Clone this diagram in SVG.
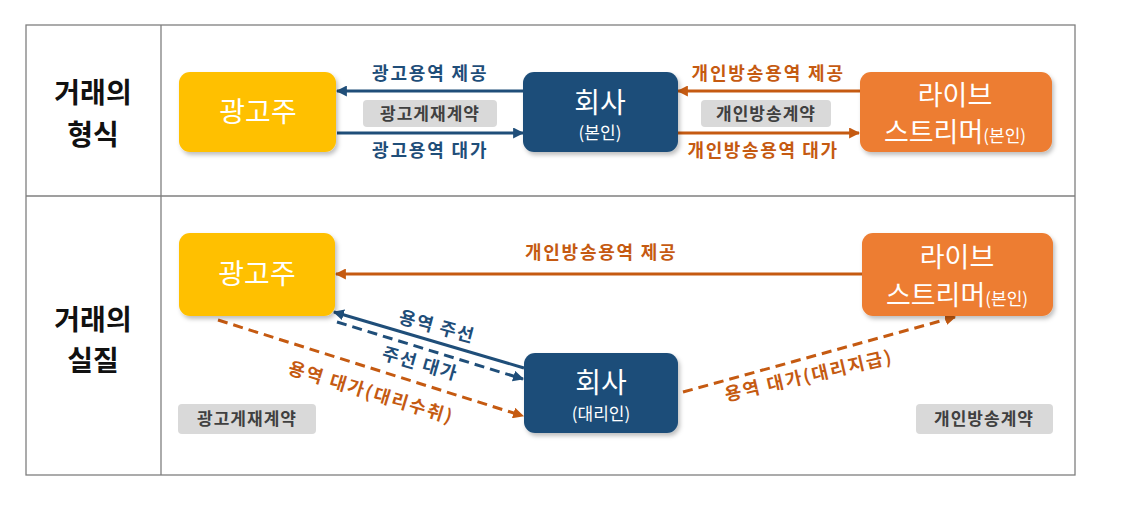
<svg xmlns="http://www.w3.org/2000/svg" width="1126" height="516" viewBox="0 0 1126 516">
<style>
text{font-family:"Noto Sans CJK KR","Noto Sans",sans-serif}
.hdr{font-size:28px;font-weight:700;fill:#111;text-anchor:middle}
.nt{font-size:28px;fill:#fff;text-anchor:middle}
.ns{font-size:17px;fill:#fff}
.lb{font-size:18px;font-weight:700;letter-spacing:1.5px;text-anchor:middle}
.blue{fill:#1F4E79}
.org{fill:#C55A11}
.tag{fill:#D9D9D9}
.tagt{font-size:17px;font-weight:700;fill:#404040;text-anchor:middle;letter-spacing:1px}
.bl{stroke:#1F4E79;stroke-width:3;fill:none}
.ol{stroke:#C55A11;stroke-width:3;fill:none}
.ds{stroke-dasharray:10 6}
</style>
<defs>
<marker id="ab" viewBox="0 0 10 10" refX="9" refY="5" markerWidth="11" markerHeight="11" markerUnits="userSpaceOnUse" orient="auto"><path d="M0,0 L10,5 L0,10 z" fill="#1F4E79"/></marker>
<marker id="ao" viewBox="0 0 10 10" refX="9" refY="5" markerWidth="11" markerHeight="11" markerUnits="userSpaceOnUse" orient="auto"><path d="M0,0 L10,5 L0,10 z" fill="#C55A11"/></marker>
<filter id="sh" x="-10%" y="-10%" width="125%" height="130%"><feDropShadow dx="2" dy="3" stdDeviation="2" flood-color="#000" flood-opacity="0.25"/></filter>
</defs>
<rect width="1126" height="516" fill="#fff"/>
<g id="table" fill="none" stroke="#7f7f7f" stroke-width="1.3">
<rect x="26" y="25" width="1049" height="450"/>
<line x1="161" y1="25" x2="161" y2="475"/>
<line x1="26" y1="196" x2="1075" y2="196"/>
</g>
<g id="row-headers">
<text class="hdr" x="93" y="103">거래의</text>
<text class="hdr" x="93" y="145">형식</text>
<text class="hdr" x="93" y="330">거래의</text>
<text class="hdr" x="93" y="371">실질</text>
</g>
<g id="connectors">
<line class="bl" x1="523" y1="91" x2="337" y2="91" marker-end="url(#ab)"/>
<line class="bl" x1="337" y1="133" x2="523" y2="133" marker-end="url(#ab)"/>
<line class="ol" x1="860" y1="91" x2="678" y2="91" marker-end="url(#ao)"/>
<line class="ol" x1="678" y1="133" x2="859" y2="133" marker-end="url(#ao)"/>
<line class="ol" x1="862" y1="274" x2="336" y2="274" marker-end="url(#ao)"/>
<line class="bl" x1="524" y1="368" x2="334" y2="312" marker-end="url(#ab)"/>
<line class="bl ds" x1="337" y1="322" x2="523" y2="379" marker-end="url(#ab)"/>
<line class="ol ds" x1="218" y1="320" x2="523" y2="416" marker-end="url(#ao)"/>
<line class="ol ds" x1="683" y1="392" x2="955" y2="317" marker-end="url(#ao)"/>
</g>
<g id="labels">
<text class="lb blue" x="430" y="80" textLength="116" lengthAdjust="spacing">광고용역 제공</text>
<text class="lb blue" x="430" y="157" textLength="116" lengthAdjust="spacing">광고용역 대가</text>
<text class="lb org" x="768" y="80" textLength="153" lengthAdjust="spacing">개인방송용역 제공</text>
<text class="lb org" x="763" y="157" textLength="151" lengthAdjust="spacing">개인방송용역 대가</text>
<text class="lb org" x="601" y="259" textLength="152" lengthAdjust="spacing">개인방송용역 제공</text>
<text class="lb blue" transform="translate(437,327) rotate(15)" y="6">용역 주선</text>
<text class="lb blue" transform="translate(420,364) rotate(16)" y="6">주선 대가</text>
<text class="lb org" transform="translate(371,393) rotate(17)" y="6" style="letter-spacing:2px">용역 대가(대리수취)</text>
<text class="lb org" transform="translate(809,376) rotate(-13)" y="6" style="letter-spacing:2px">용역 대가(대리지급)</text>
</g>
<g id="tag-top-ad"><rect class="tag" x="363" y="100" width="134" height="27" rx="4"/><text class="tagt" x="430" y="120">광고게재계약</text></g>
<g id="tag-top-live"><rect class="tag" x="701" y="100" width="130" height="27" rx="4"/><text class="tagt" x="766" y="120">개인방송계약</text></g>
<g id="tag-bot-ad"><rect class="tag" x="178" y="404" width="138" height="30" rx="4"/><text class="tagt" x="247" y="425">광고게재계약</text></g>
<g id="tag-bot-live"><rect class="tag" x="916" y="404" width="137" height="30" rx="4"/><text class="tagt" x="984" y="425">개인방송계약</text></g>
<g id="node-advertiser-top"><rect x="179" y="72" width="157" height="80" rx="11" fill="#FFC000" filter="url(#sh)"/><text class="nt" x="258" y="122">광고주</text></g>
<g id="node-company-top"><rect x="523" y="72" width="155" height="80" rx="11" fill="#1F4E79" filter="url(#sh)"/><text class="nt" x="600" y="113">회사</text><text class="ns" x="600" y="139" text-anchor="middle">(본인)</text></g>
<g id="node-streamer-top"><rect x="860" y="72" width="192" height="80" rx="11" fill="#ED7D31" filter="url(#sh)"/><text class="nt" x="955" y="105" style="font-size:27px">라이브</text><text x="955" y="142" text-anchor="middle"><tspan style="font-size:27px;fill:#fff">스트리머</tspan><tspan class="ns">(본인)</tspan></text></g>
<g id="node-advertiser-bot"><rect x="179" y="233" width="156" height="83" rx="11" fill="#FFC000" filter="url(#sh)"/><text class="nt" x="257" y="284">광고주</text></g>
<g id="node-streamer-bot"><rect x="862" y="233" width="191" height="83" rx="11" fill="#ED7D31" filter="url(#sh)"/><text class="nt" x="957" y="267" style="font-size:27px">라이브</text><text x="957" y="305" text-anchor="middle"><tspan style="font-size:27px;fill:#fff">스트리머</tspan><tspan class="ns">(본인)</tspan></text></g>
<g id="node-company-bot"><rect x="524" y="353" width="154" height="80" rx="11" fill="#1F4E79" filter="url(#sh)"/><text class="nt" x="601" y="393">회사</text><text class="ns" x="601" y="420" text-anchor="middle">(대리인)</text></g>
</svg>
